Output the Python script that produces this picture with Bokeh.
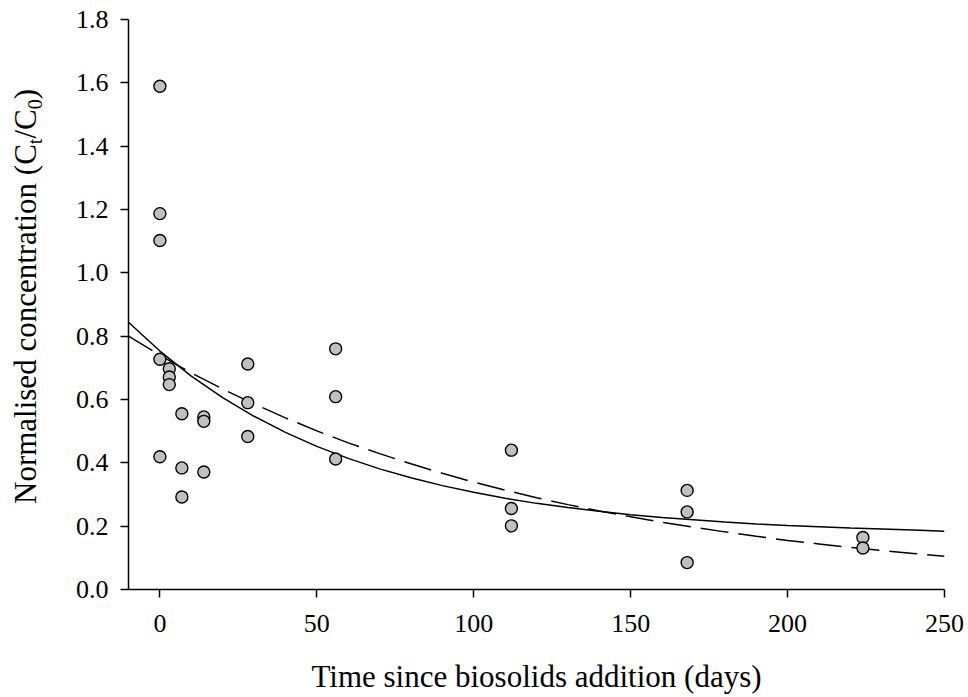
import math

from bokeh.core.properties import value
from bokeh.embed import file_html
from bokeh.layouts import row
from bokeh.models import FixedTicker, PrintfTickFormatter, Range1d
from bokeh.plotting import figure
from bokeh.resources import INLINE

# Sampling day and normalised concentration (Ct/C0) of each observation
days = [0, 0, 0, 0, 0,
        3, 3, 3,
        7, 7, 7,
        14, 14, 14,
        28, 28, 28,
        56, 56, 56,
        112, 112, 112,
        168, 168, 168,
        224, 224]
conc = [1.589, 1.187, 1.102, 0.727, 0.419,
        0.697, 0.671, 0.647,
        0.555, 0.384, 0.292,
        0.545, 0.531, 0.371,
        0.712, 0.590, 0.483,
        0.760, 0.609, 0.412,
        0.440, 0.256, 0.201,
        0.313, 0.245, 0.085,
        0.164, 0.131]

# Fitted decay curves, tabulated every 10 days
curve_days = [-10, 0, 10, 20, 30, 40, 50, 60, 70, 80, 90, 100, 110, 120,
              130, 140, 150, 160, 170, 180, 190, 200, 210, 220, 230, 240, 250]
fit_plateau = [0.844, 0.753, 0.674, 0.606, 0.547, 0.496, 0.452, 0.414, 0.381,
               0.353, 0.328, 0.307, 0.288, 0.272, 0.259, 0.247, 0.236, 0.227,
               0.220, 0.213, 0.207, 0.202, 0.198, 0.194, 0.191, 0.188, 0.184]
fit_first_order = [0.800, 0.740, 0.684, 0.633, 0.586, 0.542, 0.501, 0.463,
                   0.429, 0.397, 0.367, 0.339, 0.314, 0.290, 0.268, 0.248,
                   0.230, 0.212, 0.197, 0.182, 0.168, 0.155, 0.144, 0.133,
                   0.123, 0.114, 0.105]

x_ticks = [0, 50, 100, 150, 200, 250]
y_ticks = [0.0, 0.2, 0.4, 0.6, 0.8, 1.0, 1.2, 1.4, 1.6, 1.8]

x_title = "Time since biosolids addition (days)"
# y title pieces: (text, is_subscript)
y_title = [("Normalised concentration (C", False), ("t", True),
           ("/C", False), ("0", True), (")", False)]

FONT = "Liberation Serif"
W, H = 968, 697
TITLE_W = 60                      # strip holding the vertical y title
LEFT, RIGHT, TOP, BOTTOM = 128, 24, 19, 108
X0, X1 = -10, 250
Y0, Y1 = 0.0, 1.8

# ---- main chart -------------------------------------------------------------
p = figure(width=W - TITLE_W, height=H,
           x_range=Range1d(X0, X1), y_range=Range1d(Y0, Y1),
           output_backend="svg", toolbar_location=None,
           min_border_left=LEFT - TITLE_W, min_border_right=RIGHT,
           min_border_top=TOP, min_border_bottom=BOTTOM)
p.outline_line_color = None
p.grid.visible = False
p.background_fill_color = "white"
p.border_fill_color = "white"

p.axis.axis_line_color = "black"
p.axis.axis_line_width = 1.5
p.axis.major_tick_line_color = "black"
p.axis.major_tick_line_width = 1.5
p.axis.major_tick_out = 8
p.axis.major_tick_in = 0
p.axis.minor_tick_out = 0
p.axis.minor_tick_in = 0
p.axis.major_label_text_font = FONT
p.axis.major_label_text_font_size = "26px"
p.axis.major_label_text_color = "black"
p.xaxis.major_label_standoff = 17
p.yaxis.major_label_standoff = 12

p.xaxis.ticker = FixedTicker(ticks=x_ticks)
p.yaxis.ticker = FixedTicker(ticks=y_ticks)
p.yaxis.formatter = PrintfTickFormatter(format="%.1f")

p.xaxis.axis_label = x_title
p.xaxis.axis_label_text_font = FONT
p.xaxis.axis_label_text_font_size = "31px"
p.xaxis.axis_label_text_font_style = "normal"
p.xaxis.axis_label_text_color = "black"
p.xaxis.axis_label_standoff = 24

# fitted curves
p.line(curve_days, fit_plateau, line_color="black", line_width=1.5)
p.line(curve_days, fit_first_order, line_color="black", line_width=1.5,
       line_dash="28 10")

# observations
p.scatter(days, conc, size=12, fill_color="#c0c0c0", line_color="black",
          line_width=1.4)

# ---- vertical y title with subscripts ---------------------------------------
# The strip shares the chart's top/bottom borders so both frames line up;
# its data y is the pixel distance from the bottom of the canvas.
tf = figure(width=TITLE_W, height=H, x_range=Range1d(0, TITLE_W),
            y_range=Range1d(BOTTOM, H - TOP), output_backend="svg",
            title=None, toolbar_location=None, x_axis_location=None,
            y_axis_location=None, min_border_left=0, min_border_right=0,
            min_border_top=TOP, min_border_bottom=BOTTOM)
tf.outline_line_color = None
tf.grid.visible = False
tf.background_fill_color = "white"
tf.border_fill_color = "white"

ADV = {"N": 722, "o": 500, "r": 333, "m": 778, "a": 444, "l": 278, "i": 278,
       "s": 389, "e": 444, "d": 500, " ": 250, "c": 444, "n": 500, "t": 278,
       "(": 333, ")": 333, "C": 667, "/": 278, "0": 500}
MAIN_SIZE, SUB_SIZE, SUB_DROP = 31, 20, 6
MID_ABOVE_BASELINE = 0.3375       # middle of the text box, in em above baseline


def advance(text, size):
    return sum(ADV[ch] for ch in text) / 1000.0 * size


total = sum(advance(t, SUB_SIZE if sub else MAIN_SIZE) for t, sub in y_title)
center_from_top = 296
baseline_x = 35
pos = (H - center_from_top) - total / 2.0
for text, sub in y_title:
    size = SUB_SIZE if sub else MAIN_SIZE
    adv = advance(text, size)
    bx = baseline_x + (SUB_DROP if sub else 0)
    tf.text(x=[bx - MID_ABOVE_BASELINE * size], y=[pos + adv / 2.0],
            text=[text], angle=math.pi / 2, text_font=value(FONT),
            text_font_size=value(f"{size}px"), text_color="black",
            text_align="center", text_baseline="middle")
    pos += adv

layout = row(tf, p, spacing=0)
open("out.html", "w").write(file_html(layout, INLINE))
